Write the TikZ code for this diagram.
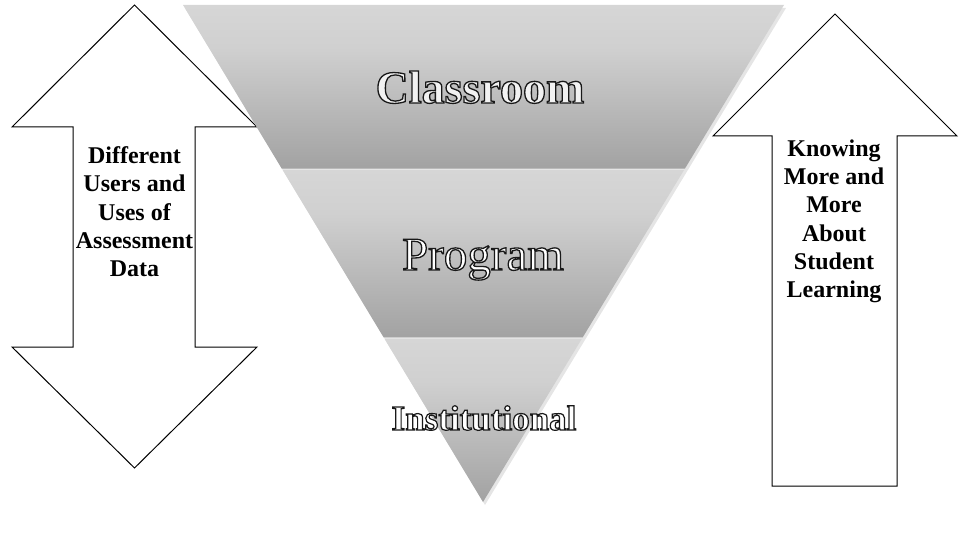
\documentclass[tikz,border=0pt]{standalone}
\usepackage{fontspec}
\setmainfont{Liberation Serif}
\usetikzlibrary{calc}
\definecolor{bandT}{RGB}{214,214,214}
\definecolor{bandM}{RGB}{208,208,208}
\definecolor{bandB}{RGB}{162,162,162}
\pgfdeclareverticalshading{bandshade}{100bp}{color(0bp)=(bandB); color(25bp)=(bandB); color(62bp)=(bandM); color(75bp)=(bandT); color(100bp)=(bandT)}
% hollow text: fill colour #1, outline width #2
\newcommand\hollowtext[3]{{\color{#1}\special{pdf:literal direct 0.1 0.1 0.1 RG 2 Tr #2 w}#3\special{pdf:literal direct 0 Tr}}}
\begin{document}
\begin{tikzpicture}[x=1pt,y=-1pt,
  arrowshape/.style={draw=black, line width=1pt, fill=white, line join=miter},
  bandfill/.style={shading=bandshade, draw=none},
  sidetext/.style={font=\fontsize{24}{28.3}\selectfont\bfseries, align=center, inner sep=0pt, anchor=north},
  levelword/.style={inner sep=0pt, anchor=base},
  bigbold/.style={font=\fontsize{46}{46}\selectfont\bfseries},
  bigreg/.style={font=\fontsize{47}{47}\selectfont},
  midbold/.style={font=\fontsize{35}{35}\selectfont\bfseries}]
\useasboundingbox (0,0) rectangle (960,540);
% left double arrow
\draw[arrowshape] (134.5,5) -- (257,127) -- (195,127) -- (195,347) -- (257,347)
  -- (134.5,468) -- (12,347) -- (73,347) -- (73,127) -- (12,127) -- cycle;
% right up arrow
\draw[arrowshape] (835,14) -- (957,136) -- (897,136) -- (897,486) -- (772,486)
  -- (772,136) -- (713,136) -- cycle;
% triangle geometry
\coordinate (TL) at (183,5);
\coordinate (TR) at (784,5);
\coordinate (tip) at (483,502);
% soft shadow
\fill[black, opacity=0.10] ($(TL)+(2,3)$) -- ($(TR)+(2,3)$) -- ($(tip)+(2,3)$) -- cycle;
% bands
\shade[bandfill] (TL) -- (TR) -- ($(TR)!0.3290!(tip)$) -- ($(TL)!0.3290!(tip)$) -- cycle;
\shade[bandfill] ($(TL)!0.3320!(tip)$) -- ($(TR)!0.3320!(tip)$) -- ($(TR)!0.6690!(tip)$) -- ($(TL)!0.6690!(tip)$) -- cycle;
\shade[bandfill] ($(TL)!0.6720!(tip)$) -- ($(TR)!0.6720!(tip)$) -- (tip) -- cycle;
% level words
\node[levelword, bigbold] (classroom) at (480,103) {\hollowtext{gray!10}{1.3}{Classroom}};
\node[levelword, bigreg] (program) at (483,270) {\hollowtext{white}{1.3}{Program}};
\node[levelword, midbold] (institutional) at (484,430) {\hollowtext{white}{1.2}{Institutional}};
% side texts
\node[sidetext] (lefttext) at (134.5,146.5) {Different\\Users and\\Uses of\\Assessment\\Data};
\node[sidetext] (righttext) at (834,139.5) {Knowing\\More and\\More\\About\\Student\\Learning};
\end{tikzpicture}
\end{document}
